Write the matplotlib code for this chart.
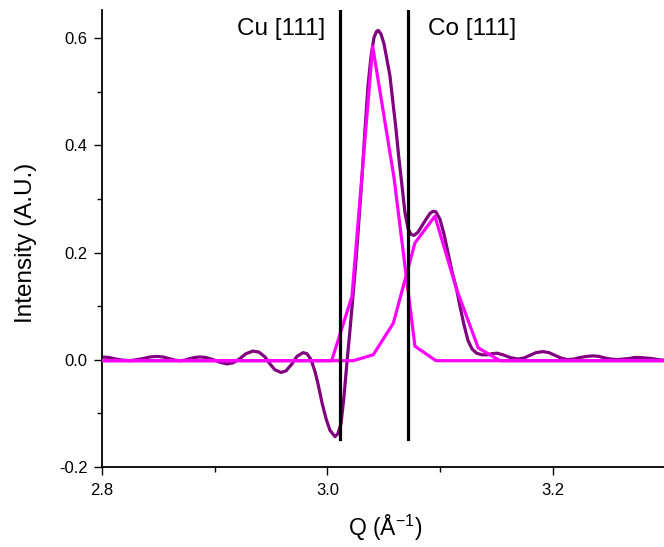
import matplotlib
matplotlib.use("Agg")
import matplotlib.pyplot as plt
from matplotlib.ticker import MultipleLocator

plt.rcParams["font.family"] = ["Liberation Sans", "DejaVu Sans"]
plt.rcParams["mathtext.fontset"] = "custom"
plt.rcParams["mathtext.rm"] = "Liberation Sans"
plt.rcParams["mathtext.it"] = "Liberation Sans"

q_meas = [2.8000, 2.8062, 2.8124, 2.8186, 2.8248, 2.8310, 2.8364, 2.8426, 2.8488,
          2.8541, 2.8594, 2.8647, 2.8692, 2.8736, 2.8780, 2.8825, 2.8869, 2.8922,
          2.8984, 2.9047, 2.9109, 2.9162, 2.9224, 2.9277, 2.9339, 2.9392, 2.9446,
          2.9490, 2.9534, 2.9588, 2.9632, 2.9685, 2.9729, 2.9783, 2.9818, 2.9854,
          2.9889, 2.9916, 2.9951, 2.9987, 3.0022, 3.0067, 3.0093, 3.0120, 3.0146,
          3.0173, 3.0200, 3.0226, 3.0253, 3.0279, 3.0306, 3.0333, 3.0359, 3.0386,
          3.0412, 3.0435, 3.0451, 3.0475, 3.0501, 3.0528, 3.0554, 3.0581, 3.0608,
          3.0634, 3.0661, 3.0687, 3.0714, 3.0741, 3.0767, 3.0803, 3.0838, 3.0874,
          3.0909, 3.0936, 3.0962, 3.0998, 3.1033, 3.1069, 3.1104, 3.1146, 3.1175,
          3.1211, 3.1246, 3.1282, 3.1323, 3.1370, 3.1415, 3.1459, 3.1503, 3.1557,
          3.1619, 3.1690, 3.1743, 3.1796, 3.1849, 3.1911, 3.1965, 3.2018, 3.2071,
          3.2124, 3.2186, 3.2240, 3.2302, 3.2355, 3.2408, 3.2461, 3.2514, 3.2568,
          3.2621, 3.2674, 3.2727, 3.2772, 3.2825, 3.2878, 3.2931, 3.2985]
i_meas = [0.005, 0.004, 0.001, -0.001, -0.002, 0.000, 0.002, 0.005, 0.006,
          0.005, 0.002, -0.001, -0.002, -0.001, 0.002, 0.004, 0.005, 0.004,
          0.000, -0.005, -0.008, -0.006, 0.002, 0.011, 0.016, 0.014, 0.005,
          -0.008, -0.019, -0.024, -0.021, -0.008, 0.006, 0.013, 0.011, 0.000,
          -0.022, -0.045, -0.080, -0.110, -0.132, -0.144, -0.138, -0.120, -0.070,
          -0.005, 0.056, 0.118, 0.185, 0.260, 0.340, 0.430, 0.510, 0.566,
          0.601, 0.613, 0.615, 0.608, 0.590, 0.560, 0.530, 0.480, 0.430,
          0.375, 0.325, 0.275, 0.245, 0.234, 0.232, 0.238, 0.250, 0.262,
          0.273, 0.277, 0.276, 0.262, 0.235, 0.200, 0.165, 0.131, 0.100,
          0.065, 0.036, 0.020, 0.012, 0.009, 0.009, 0.011, 0.012, 0.009,
          0.004, 0.001, 0.003, 0.008, 0.013, 0.015, 0.013, 0.008, 0.003,
          0.000, 0.001, 0.004, 0.006, 0.007, 0.006, 0.003, 0.001, 0.000,
          0.001, 0.002, 0.004, 0.004, 0.003, 0.002, 0.000, -0.001]

# Cu [111] reference peak (magenta)
q_cu = [2.78, 3.0037, 3.0217, 3.0401, 3.059, 3.0776, 3.0962, 3.32]
i_cu = [-0.002, -0.002, 0.118, 0.585, 0.34, 0.025, -0.002, -0.002]

# Co [111] reference peak (magenta)
q_co = [2.78, 3.0229, 3.0406, 3.0584, 3.0776, 3.0953, 3.1146, 3.1337, 3.153, 3.32]
i_co = [-0.002, -0.002, 0.009, 0.068, 0.218, 0.268, 0.131, 0.022, -0.002, -0.002]

# peak positions and labels
peak_q = [3.0111, 3.0717]
peak_labels = ["Cu [111]", "Co [111]"]
label_q = [2.998, 3.0888]

fig = plt.figure(figsize=(6.64, 5.47), dpi=100)
ax = fig.add_axes([0.1536, 0.1468, 0.8464, 0.8349])

ax.plot(q_meas, i_meas, color="#800080", linewidth=2.3, zorder=2)
ax.plot(q_cu, i_cu, color="#FF00FF", linewidth=2.3, zorder=3)
ax.plot(q_co, i_co, color="#FF00FF", linewidth=2.3, zorder=3)

for q in peak_q:
    ax.plot([q, q], [-0.149, 0.7], color="black", linewidth=2.3, zorder=4)

ax.text(label_q[0], 0.607, peak_labels[0], ha="right", va="baseline", fontsize=17.5)
ax.text(label_q[1], 0.607, peak_labels[1], ha="left", va="baseline", fontsize=17.5)

ax.set_xlim(2.8, 3.2985)
ax.set_ylim(-0.2, 0.653)

ax.xaxis.set_major_locator(MultipleLocator(0.2))
ax.xaxis.set_minor_locator(MultipleLocator(0.1))
ax.yaxis.set_major_locator(MultipleLocator(0.2))
ax.yaxis.set_minor_locator(MultipleLocator(0.1))
ax.xaxis.set_major_formatter(lambda v, p: f"{v:.1f}")
ax.yaxis.set_major_formatter(lambda v, p: f"{v:.1f}")

ax.tick_params(which="major", direction="out", length=6, width=1.0, labelsize=12)
ax.tick_params(which="minor", direction="out", length=3.5, width=1.0)
ax.tick_params(axis="x", which="major", pad=5.5)
ax.tick_params(axis="y", which="major", pad=4.5)

for side in ["top", "right"]:
    ax.spines[side].set_visible(False)
for side in ["left", "bottom"]:
    ax.spines[side].set_linewidth(1.3)

ax.set_xlabel(r"Q (Å$^{\mathrm{-1}}$)", fontsize=16.5, va="baseline")
ax.xaxis.set_label_coords(0.503, -0.1516)
ax.set_ylabel("Intensity (A.U.)", fontsize=17.5, va="center")
ax.yaxis.set_label_coords(-0.135, 0.4906)

fig.savefig("out.png", dpi=100)
plt.close(fig)
